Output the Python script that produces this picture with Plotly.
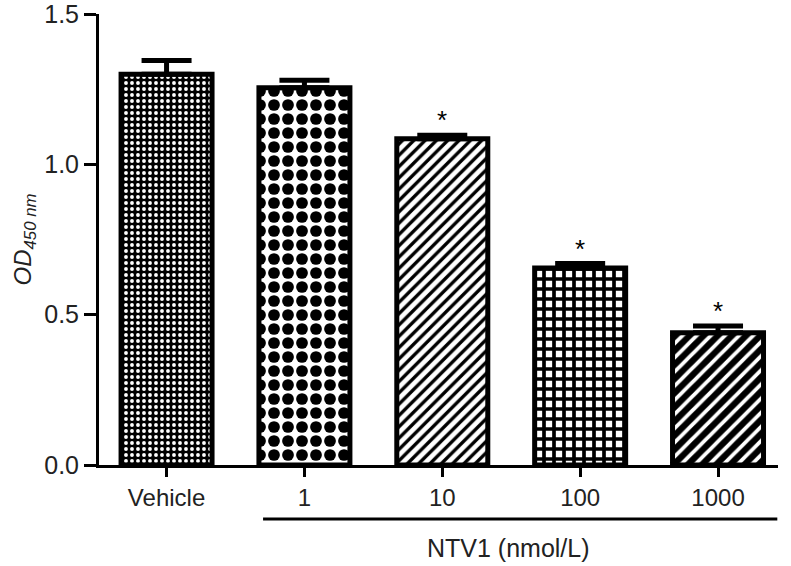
import plotly.graph_objects as go

categories = ["Vehicle", "1", "10", "100", "1000"]
values = [1.30, 1.255, 1.085, 0.655, 0.44]
errors = [0.045, 0.025, 0.012, 0.015, 0.022]
significant = [False, False, True, True, True]
y_ticks = [0.0, 0.5, 1.0, 1.5]
y_tick_labels = ["0.0", "0.5", "1.0", "1.5"]

FONT = "Liberation Sans, Arial, sans-serif"

patterns = [
    dict(shape=".", fgcolor="white", bgcolor="black", size=6, solidity=0.32, fillmode="replace", fgopacity=1),
    dict(shape=".", fgcolor="black", bgcolor="white", size=14, solidity=0.55, fillmode="replace", fgopacity=1),
    dict(shape="/", fgcolor="black", bgcolor="white", size=8, solidity=0.42, fillmode="replace", fgopacity=1),
    dict(shape="+", fgcolor="black", bgcolor="white", size=10, solidity=0.6, fillmode="replace", fgopacity=1),
    dict(shape="/", fgcolor="white", bgcolor="black", size=10, solidity=0.38, fillmode="replace", fgopacity=1),
]

fig = go.Figure()
for i, c in enumerate(categories):
    fig.add_trace(go.Bar(
        x=[c], y=[values[i]],
        marker=dict(color="white", pattern=patterns[i], line=dict(color="black", width=5)),
        error_y=dict(type="data", symmetric=False, array=[errors[i]], arrayminus=[0],
                     color="black", thickness=5, width=25),
        width=0.66,
        showlegend=False,
    ))

for i, c in enumerate(categories):
    if significant[i]:
        fig.add_annotation(x=i, xref="x", y=values[i] + errors[i], yref="y", text="*",
                           showarrow=False, yanchor="bottom", yshift=-2,
                           font=dict(family=FONT, size=26, color="black"))

# group line and label
fig.add_shape(type="line", xref="x", yref="paper", x0=0.7, x1=4.43, y0=-0.12, y1=-0.12,
              line=dict(color="black", width=3))
fig.add_annotation(x=2.48, xref="x", y=-0.184, yref="paper", text="NTV1 (nmol/L)",
                   showarrow=False, yanchor="middle",
                   font=dict(family=FONT, size=25, color="#222"))

fig.update_layout(
    width=791, height=566,
    margin=dict(l=99, r=13, t=14, b=101),
    plot_bgcolor="white", paper_bgcolor="white",
    font=dict(family=FONT, size=25, color="#222"),
)
fig.update_xaxes(
    range=[-0.49, 4.435], showline=True, linecolor="black", linewidth=3,
    ticks="outside", ticklen=9, tickwidth=3, tickcolor="black",
    showgrid=False, zeroline=False, automargin=False,
    tickfont=dict(family=FONT, size=24, color="#222"),
)
fig.update_yaxes(
    range=[0, 1.5], showline=True, linecolor="black", linewidth=3,
    tickvals=y_ticks, ticktext=y_tick_labels, ticklabeloverflow="allow",
    ticks="outside", ticklen=12, tickwidth=3, tickcolor="black",
    showgrid=False, zeroline=False, automargin=False,
    tickfont=dict(family=FONT, size=25, color="#222"),
    title=dict(text="<i>OD</i><sub><i>450 nm</i></sub>", standoff=6,
               font=dict(family=FONT, size=24, color="#222")),
)

fig.write_html("out.html", config={"displayModeBar": False},
               post_script="document.body.style.margin='0';document.body.style.padding='0';")
